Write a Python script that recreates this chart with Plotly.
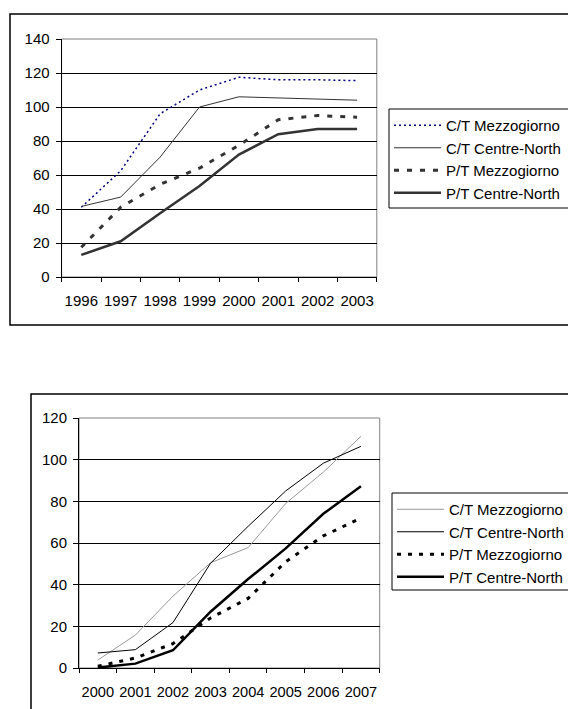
import plotly.graph_objects as go

# ---------- data: top chart ----------
years_top = ["1996", "1997", "1998", "1999", "2000", "2001", "2002", "2003"]
ct_mezz_top = [41, 62.5, 96, 110, 117.5, 116, 116, 115.5]
ct_cn_top = [41.5, 47, 70.5, 100, 106, 105.3, 104.7, 104]
pt_mezz_top = [17.5, 41, 54.5, 64, 77.5, 92.5, 95, 94]
pt_cn_top = [13, 21, 37.5, 53.5, 72, 84, 87, 87]

# ---------- data: bottom chart ----------
years_bot = ["2000", "2001", "2002", "2003", "2004", "2005", "2006", "2007"]
ct_mezz_bot = [3.8, 15.8, 34.5, 50.5, 57.8, 79, 94, 111.2]
ct_cn_bot = [7.2, 8.8, 21.8, 50.3, 68, 85, 98.3, 106.4]
pt_mezz_bot = [0.8, 4.8, 11.7, 24, 33.4, 51, 63.4, 72]
pt_cn_bot = [0.2, 2.1, 8.5, 27, 42.7, 57.4, 74, 87.2]

names = ["C/T Mezzogiorno", "C/T Centre-North", "P/T Mezzogiorno", "P/T Centre-North"]

W, H = 568, 709
FONT = "Liberation Sans, Arial, sans-serif"


def px(x):
    return x / W


def py(y):
    return 1 - y / H


fig = go.Figure()

top_styles = [
    dict(color="#000080", width=1.5, dash="2px,3px"),
    dict(color="#333333", width=1),
    dict(color="#333333", width=3, dash="5px,8px"),
    dict(color="#333333", width=2.5),
]
for i, (n, ys) in enumerate(zip(names, [ct_mezz_top, ct_cn_top, pt_mezz_top, pt_cn_top])):
    fig.add_trace(go.Scatter(x=years_top, y=ys, name=n, mode="lines", line=top_styles[i],
                             xaxis="x", yaxis="y", legend="legend"))

bot_styles = [
    dict(color="#999999", width=1),
    dict(color="#000000", width=1),
    dict(color="#000000", width=3, dash="4px,7px"),
    dict(color="#000000", width=2.5),
]
for i, (n, ys) in enumerate(zip(names, [ct_mezz_bot, ct_cn_bot, pt_mezz_bot, pt_cn_bot])):
    fig.add_trace(go.Scatter(x=years_bot, y=ys, name=n, mode="lines", line=bot_styles[i],
                             xaxis="x2", yaxis="y2", legend="legend2"))

xcommon = dict(type="category", tickson="boundaries", ticks="outside", ticklen=4,
               tickcolor="black", showline=True, linecolor="black", linewidth=1,
               showgrid=False, zeroline=False, tickangle=0, ticklabelstandoff=10)
ycommon = dict(ticks="outside", ticklen=5, tickcolor="black", showline=True,
               linecolor="black", linewidth=1, showgrid=True, gridcolor="#000000",
               gridwidth=1, zeroline=False, ticklabelstandoff=3)

legend_common = dict(xanchor="left", yanchor="top", borderwidth=0,
                     bgcolor="rgba(0,0,0,0)", font=dict(size=15), itemwidth=47,
                     traceorder="normal")

fig.update_layout(
    width=W, height=H,
    margin=dict(l=0, r=0, t=0, b=0, autoexpand=False),
    paper_bgcolor="white", plot_bgcolor="white",
    font=dict(family=FONT, size=15, color="black"),
    showlegend=True,
    xaxis=dict(domain=[px(61.6), px(376.8)], anchor="y", range=[-0.5, 7.5],
               tickfont=dict(size=15), **xcommon),
    yaxis=dict(domain=[py(277), py(39)], anchor="x", range=[0, 140], dtick=20,
               tickfont=dict(size=15), **ycommon),
    xaxis2=dict(domain=[px(79), px(379.7)], anchor="y2", range=[-0.5, 7.5],
                tickfont=dict(size=14.6), **xcommon),
    yaxis2=dict(domain=[py(668), py(418)], anchor="x2", range=[0, 120], dtick=20,
                tickfont=dict(size=15), **ycommon),
    legend=dict(x=px(389), y=py(109), **legend_common),
    legend2=dict(x=px(392), y=py(493), **legend_common),
    shapes=[
        # outer chart frames (continue past the right edge)
        dict(type="rect", xref="paper", yref="paper", x0=px(10), x1=px(590),
             y0=py(325), y1=py(14), line=dict(color="black", width=1.5), layer="below"),
        dict(type="rect", xref="paper", yref="paper", x0=px(31), x1=px(590),
             y0=py(730), y1=py(394), line=dict(color="black", width=1.5), layer="below"),
        # legend boxes (continue past the right edge)
        dict(type="rect", xref="paper", yref="paper", x0=px(389), x1=px(590),
             y0=py(208), y1=py(109), line=dict(color="black", width=1), layer="below"),
        dict(type="rect", xref="paper", yref="paper", x0=px(392), x1=px(590),
             y0=py(590), y1=py(493), line=dict(color="black", width=1), layer="below"),
        # plot-area borders
        dict(type="rect", xref="x domain", yref="y domain", x0=0, x1=1, y0=0, y1=1,
             line=dict(color="#808080", width=1), layer="below"),
        dict(type="rect", xref="x2 domain", yref="y2 domain", x0=0, x1=1, y0=0, y1=1,
             line=dict(color="#808080", width=1), layer="below"),
    ],
)

fig.write_html("out.html", config={"displayModeBar": False},
               post_script="document.body.style.margin='0';document.body.style.overflow='hidden';")
